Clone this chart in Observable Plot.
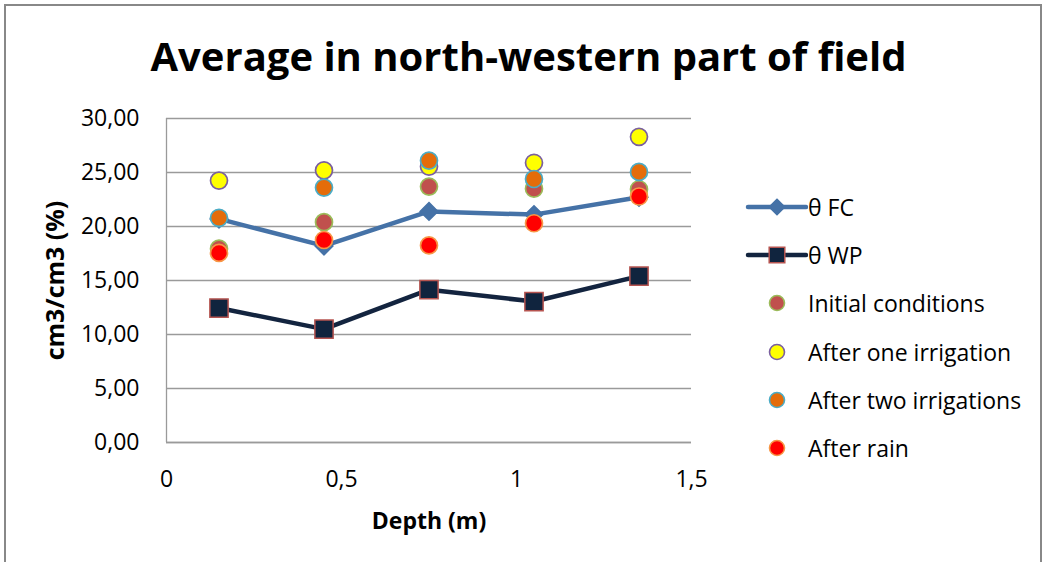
<!DOCTYPE html>
<html>
<head>
<meta charset="utf-8">
<script src="https://cdn.jsdelivr.net/npm/d3@7"></script>
<script src="https://cdn.jsdelivr.net/npm/@observablehq/plot@0.6"></script>
<style>
  html, body { margin: 0; padding: 0; background: #fff; }
  #wrap { position: relative; width: 1043px; height: 562px; overflow: hidden; font-family: "Open Sans", sans-serif; }
  #frame { position: absolute; left: 4px; top: 4px; width: 1038px; height: 620px; border: 2px solid #888; box-sizing: border-box; }
  #title { position: absolute; left: 0; width: 1057px; top: 28px; text-align: center; font-weight: bold; font-size: 40px; line-height: normal; color: #000; white-space: nowrap; }
  #chart { position: absolute; left: 0; top: 0; }
  #legend { position: absolute; left: 745px; top: 183px; }
  .li { height: 48.2px; display: flex; align-items: center; font-size: 23px; color: #000; white-space: nowrap; }
  .li svg { flex: none; }
  g[aria-label="y-axis label"] text { font-weight: bold; font-size: 25px; }
  g[aria-label="x-axis label"] text { font-weight: bold; font-size: 23px; }
</style>
</head>
<body>
<div id="wrap">
  <div id="frame"></div>
  <div id="title">Average in north-western part of field</div>
  <div id="chart"></div>
  <div id="legend"></div>
</div>
<script>
const depth = [0.15, 0.45, 0.75, 1.05, 1.35];
const thetaFC = [20.7, 18.2, 21.4, 21.1, 22.7];
const thetaWP = [12.45, 10.5, 14.15, 13.05, 15.4];
const initialConditions = [17.95, 20.4, 23.7, 23.5, 23.45];
const afterOneIrrigation = [24.25, 25.2, 25.55, 25.9, 28.3];
const afterTwoIrrigations = [20.8, 23.6, 26.1, 24.4, 25.05];
const afterRain = [17.55, 18.75, 18.25, 20.3, 22.78];

const yTicks = [0, 5, 10, 15, 20, 25, 30];
const xTicks = [0, 0.5, 1, 1.5];

const series = [
  {name: "θ FC", values: thetaFC, kind: "line", stroke: "#4572A7", symbol: "diamond2", fill: "#4572A7", mstroke: "#4572A7", r: 8, lr: 7},
  {name: "θ WP", values: thetaWP, kind: "line", stroke: "#13243F", symbol: "square", fill: "#10243E", mstroke: "#B65450", r: 10.3, lr: 8.8},
  {name: "Initial conditions", values: initialConditions, kind: "dot", fill: "#C0504D", mstroke: "#9BBB59"},
  {name: "After one irrigation", values: afterOneIrrigation, kind: "dot", fill: "#FFFF00", mstroke: "#7A5FA0"},
  {name: "After two irrigations", values: afterTwoIrrigations, kind: "dot", fill: "#E46C0A", mstroke: "#4BACC6"},
  {name: "After rain", values: afterRain, kind: "dot", fill: "#FF0000", mstroke: "#F79646"}
];

const rows = s => depth.map((d, i) => ({depth: d, value: s.values[i]}));

const marks = [
  Plot.gridY(yTicks, {stroke: "#9a9a9a", strokeOpacity: 1, strokeWidth: 1.3}),
  Plot.ruleX([0], {stroke: "#9a9a9a", strokeWidth: 1.3}),
  Plot.ruleY([0], {stroke: "#9a9a9a", strokeWidth: 1.3}),
  Plot.axisY(yTicks, {tickSize: 0, tickPadding: 27, fontSize: 23, tickFormat: d => d.toFixed(2).replace(".", ","),
    label: "cm3/cm3 (%)", labelAnchor: "center", labelArrow: "none", labelOffset: 120}),
  Plot.axisX(xTicks, {tickSize: 0, tickPadding: 28, fontSize: 23, tickFormat: d => String(d).replace(".", ","),
    label: "Depth (m)", labelAnchor: "center", labelArrow: "none", labelOffset: 86})
];

for (const s of series) {
  const data = rows(s);
  if (s.kind === "line") {
    marks.push(Plot.line(data, {x: "depth", y: "value", stroke: s.stroke, strokeWidth: 4.5}));
    marks.push(Plot.dot(data, {x: "depth", y: "value", symbol: s.symbol, r: s.r, fill: s.fill, stroke: s.mstroke, strokeWidth: 1.5}));
  } else {
    marks.push(Plot.dot(data, {x: "depth", y: "value", r: 8.5, fill: s.fill, stroke: s.mstroke, strokeWidth: 1.7}));
  }
}

const plot = Plot.plot({
  width: 1043,
  height: 562,
  marginLeft: 166,
  marginRight: 352,
  marginTop: 118,
  marginBottom: 120,
  style: {fontFamily: "Open Sans, sans-serif", fontSize: "23px", color: "#000", background: "transparent", overflow: "visible"},
  x: {domain: [0, 1.5]},
  y: {domain: [0, 30]},
  marks
});
document.getElementById("chart").appendChild(plot);

// Legend
const legend = document.getElementById("legend");
const ns = "http://www.w3.org/2000/svg";
for (const s of series) {
  const row = document.createElement("div");
  row.className = "li";
  const svg = document.createElementNS(ns, "svg");
  svg.setAttribute("width", 63);
  svg.setAttribute("height", 24);
  if (s.kind === "line") {
    const ln = document.createElementNS(ns, "line");
    ln.setAttribute("x1", 3); ln.setAttribute("x2", 61); ln.setAttribute("y1", 12); ln.setAttribute("y2", 12);
    ln.setAttribute("stroke", s.stroke); ln.setAttribute("stroke-width", 4.5); ln.setAttribute("stroke-linecap", "round");
    svg.appendChild(ln);
    const p = document.createElementNS(ns, "path");
    const sym = s.symbol === "square" ? d3.symbolSquare : d3.symbolDiamond2;
    p.setAttribute("d", d3.symbol(sym, Math.PI * s.lr * s.lr)());
    p.setAttribute("transform", "translate(32,12)");
    p.setAttribute("fill", s.fill); p.setAttribute("stroke", s.mstroke); p.setAttribute("stroke-width", 1.5);
    svg.appendChild(p);
  } else {
    const c = document.createElementNS(ns, "circle");
    c.setAttribute("cx", 32); c.setAttribute("cy", 12); c.setAttribute("r", 7.5);
    c.setAttribute("fill", s.fill); c.setAttribute("stroke", s.mstroke); c.setAttribute("stroke-width", 1.6);
    svg.appendChild(c);
  }
  row.appendChild(svg);
  const t = document.createElement("span");
  t.textContent = s.name;
  row.appendChild(t);
  legend.appendChild(row);
}
</script>
</body>
</html>
